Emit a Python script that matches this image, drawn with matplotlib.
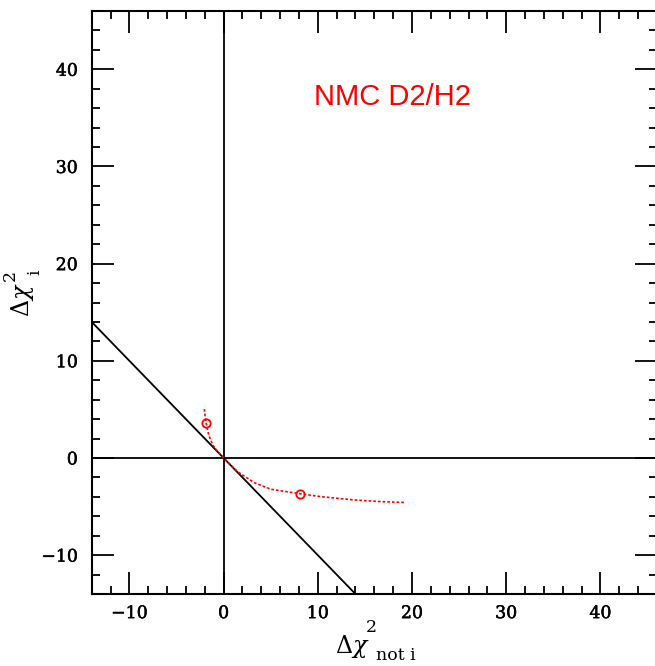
import matplotlib
matplotlib.use("Agg")
import matplotlib.pyplot as plt
import matplotlib.patheffects as pe
from matplotlib.ticker import MultipleLocator

# data
curve_x = [-2.04, -1.97, -1.86, -1.58, -1.15, -0.62, 0.0, 1.49, 3.25, 5.02, 8.10, 10.32, 13.85, 16.67, 19.25]
curve_y = [5.04, 4.35, 3.65, 2.36, 1.34, 0.65, 0.0, -1.41, -2.54, -3.22, -3.68, -3.98, -4.32, -4.49, -4.58]
marker_x = [-1.86, 8.10]
marker_y = [3.65, -3.68]
diag_x = [-14, 14]
diag_y = [14, -14]
xlim = (-14, 46)
ylim = (-14, 46)
label_text = "NMC D2/H2"

W, H = 655, 666
fig = plt.figure(figsize=(W/100, H/100), dpi=100)
ax = fig.add_axes([91.7/W, 72/H, 565.2/W, 583/H])
ax.set_xlim(*xlim)
ax.set_ylim(*ylim)

ax.axhline(0, color='black', lw=1.3)
ax.axvline(0, color='black', lw=1.3)
ax.plot(diag_x, diag_y, color='black', lw=1.3)
ax.plot(curve_x, curve_y, color='red', lw=1.2, linestyle=(0, (1.6, 1.2)))
ax.plot(marker_x, marker_y, 'o', mfc='none', mec='red', mew=1.3, ms=6)

ax.text(17.9, 37.1, label_text, color='red', fontsize=21, family='Liberation Sans',
        ha='center', va='center')

for s in ax.spines.values():
    s.set_linewidth(1.5)

semi = [pe.withStroke(linewidth=0.35, foreground='black')]

ax.xaxis.set_major_locator(MultipleLocator(10))
ax.xaxis.set_minor_locator(MultipleLocator(2))
ax.yaxis.set_major_locator(MultipleLocator(10))
ax.yaxis.set_minor_locator(MultipleLocator(2))
ax.tick_params(which='both', direction='in', top=True, right=True, width=1.3)
ax.tick_params(which='major', length=16, pad=8)
ax.tick_params(which='minor', length=5.5)
ax.tick_params(axis='y', which='major', pad=10)
for lab in ax.get_xticklabels() + ax.get_yticklabels():
    lab.set_fontfamily('DejaVu Serif')
    lab.set_fontsize(12.5)
    lab.set_path_effects(semi)

def px(x, y):
    return x / W, 1 - y / H

ser = 'DejaVu Serif'
# x label pieces
fig.text(*px(352, 646), r'$\Delta\chi$', fontsize=17, ha='center', va='center',
         math_fontfamily='dejavuserif')
fig.text(*px(371, 628), '2', fontsize=12.5, family=ser, ha='center', va='center')
fig.text(*px(396, 656), 'not i', fontsize=12.5, family=ser, ha='center', va='center')
# y label pieces (rotated)
fig.text(*px(22, 300), r'$\Delta\chi$', fontsize=17, ha='center', va='center',
         rotation=90, math_fontfamily='dejavuserif')
fig.text(*px(10, 275), '2', fontsize=12.5, family=ser, ha='center', va='center', rotation=90)
fig.text(*px(35, 272), 'i', fontsize=12.5, family=ser, ha='center', va='center', rotation=90)

fig.savefig('out.png', dpi=100)
